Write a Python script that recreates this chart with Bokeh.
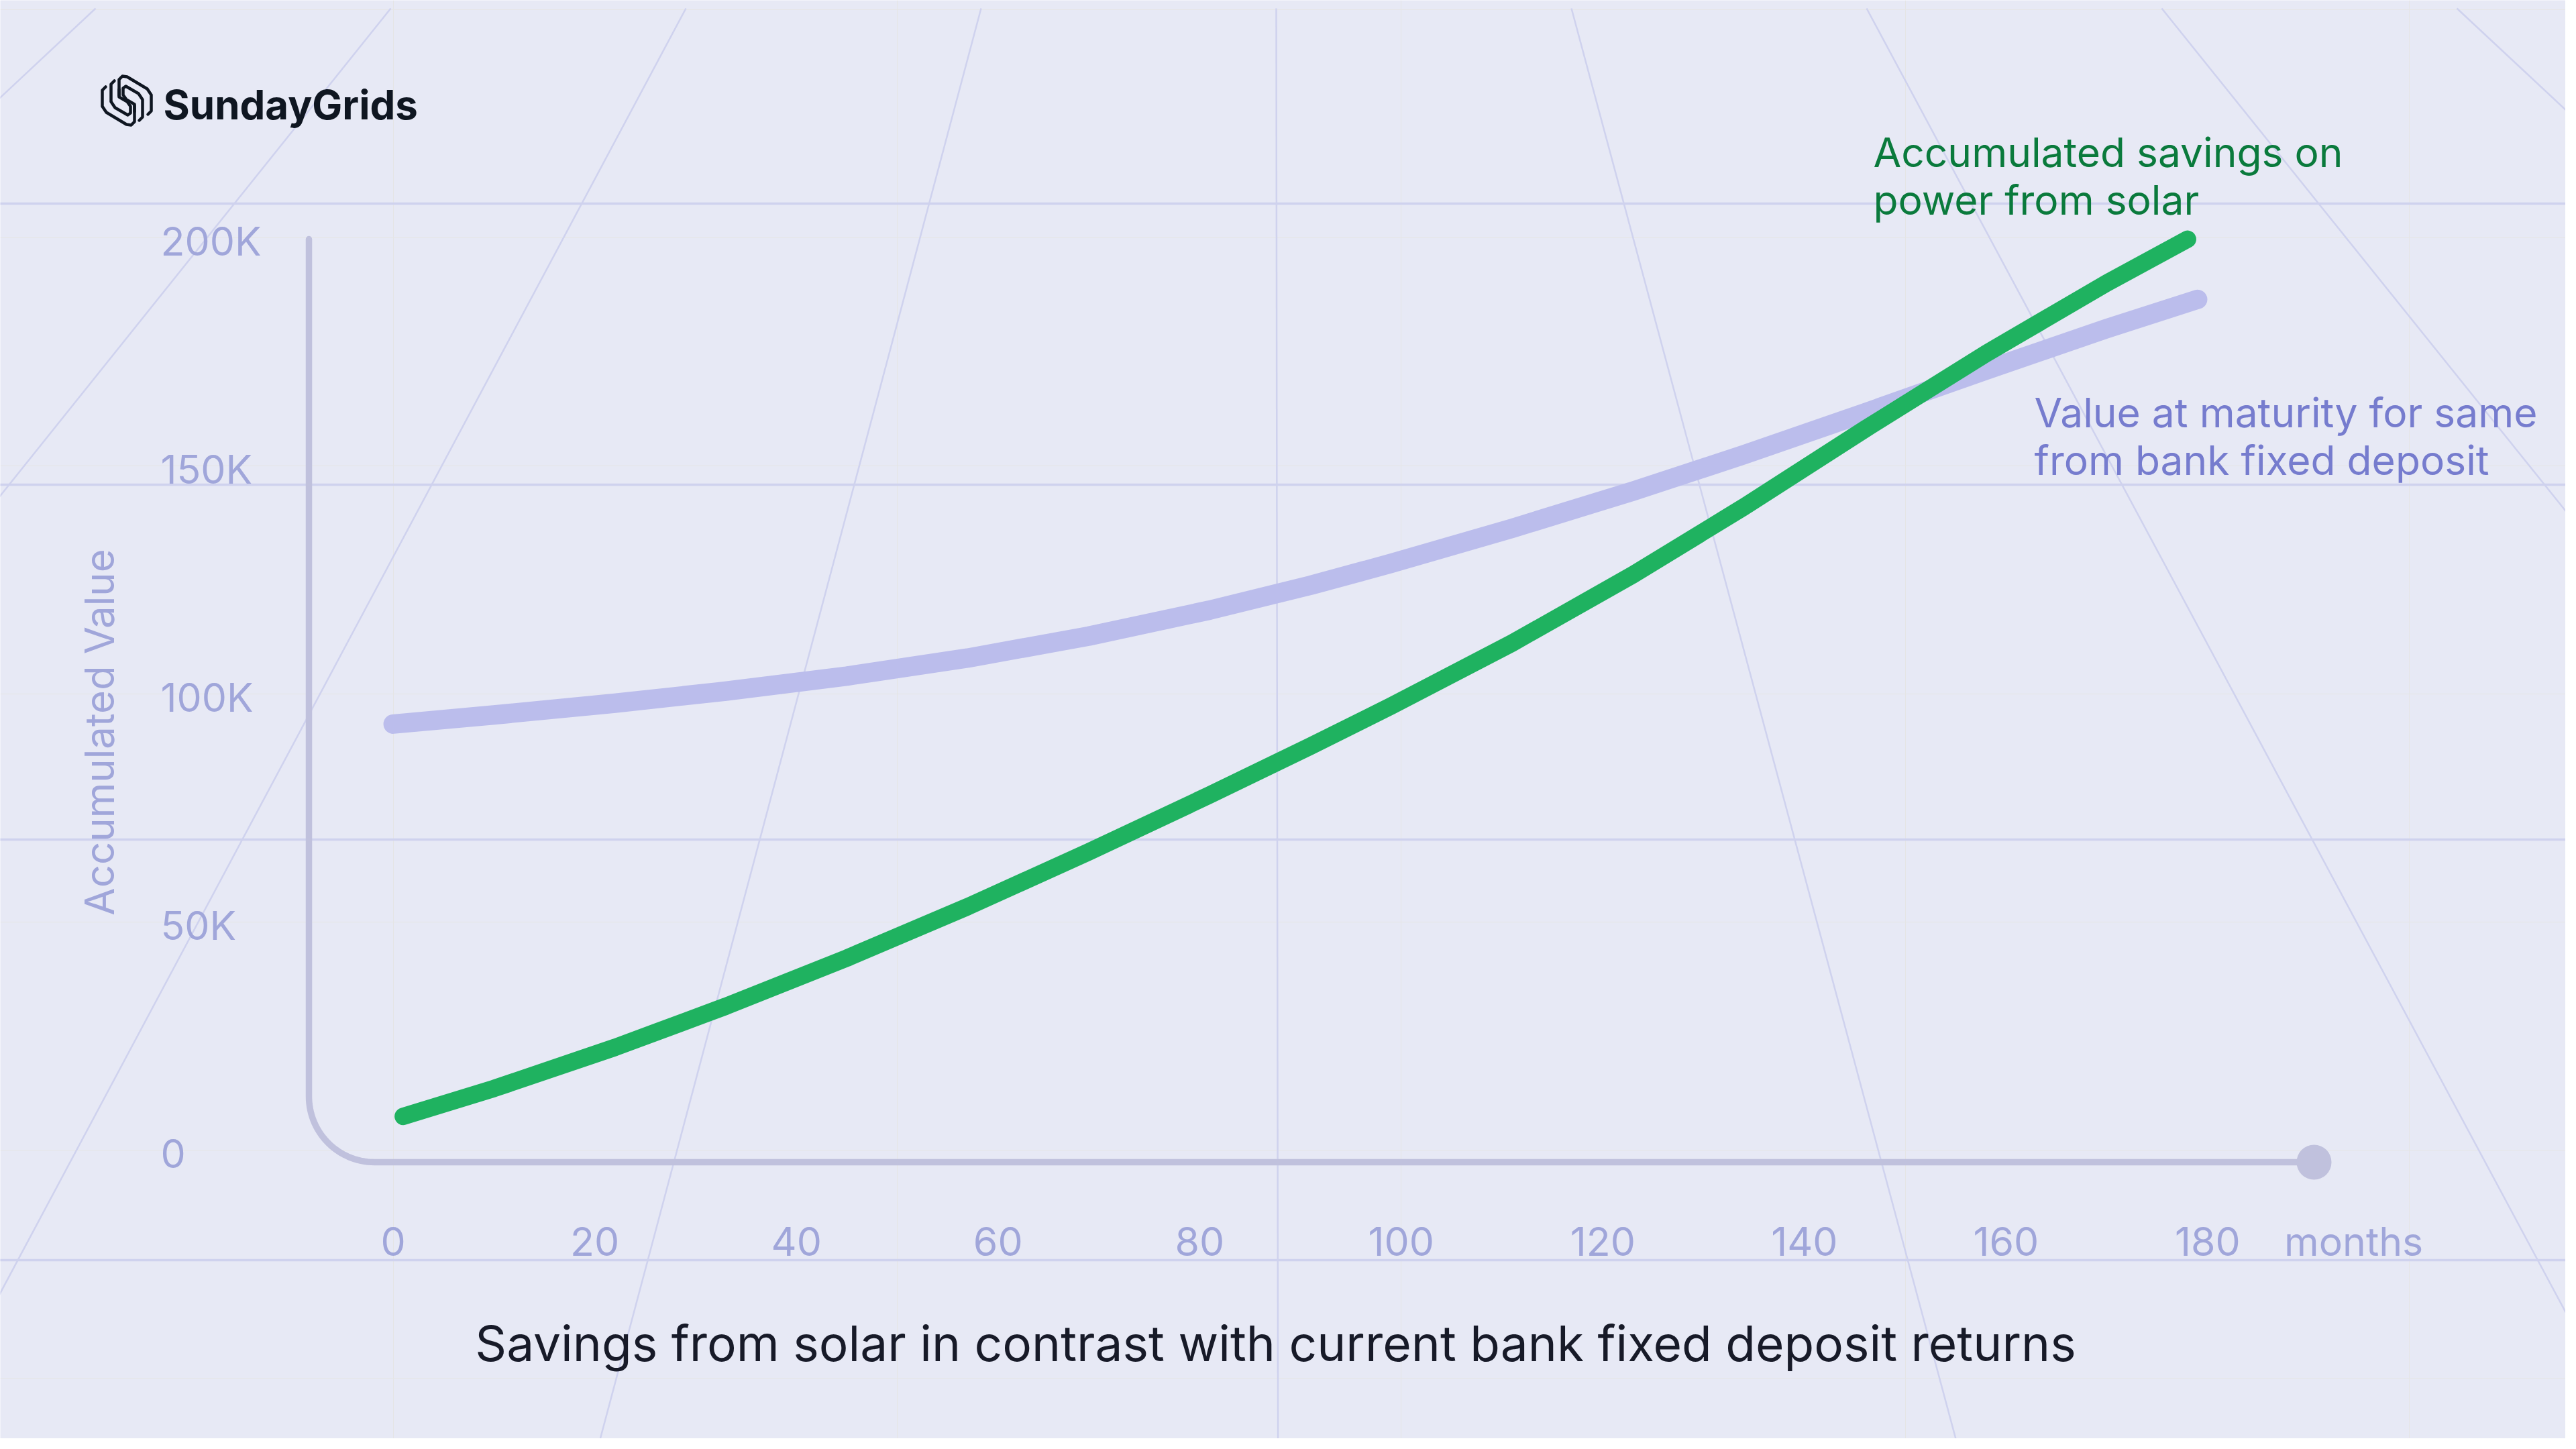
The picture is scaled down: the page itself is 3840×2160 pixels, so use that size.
import math
from bokeh.plotting import figure
from bokeh.models import Range1d
from bokeh.core.properties import value
from bokeh.embed import file_html
from bokeh.resources import INLINE

# ---------------- data ----------------
months_solar = [1, 10, 22, 33, 45, 57, 69, 81, 91, 99, 111, 123, 134, 146, 158, 170, 178]
savings_solar = [7400, 13520, 22520, 31540, 42100, 53380, 65380, 77860, 88560,
                 97360, 111160, 126160, 141010, 158050, 174610, 190090, 199690]

months_bank = [0, 10, 22, 33, 45, 57, 69, 81, 91, 99, 111, 123, 134, 146, 158, 170, 179]
value_bank = [93400, 95400, 97980, 100620, 103920, 107880, 112680, 118380, 123830,
              128630, 136310, 144470, 152450, 161630, 170990, 180110, 186500]

x_ticks = [0, 20, 40, 60, 80, 100, 120, 140, 160, 180]
y_ticks = [0, 50000, 100000, 150000, 200000]
y_tick_labels = ["0" if v == 0 else f"{v // 1000}K" for v in y_ticks]
x_tick_labels = [str(v) for v in x_ticks]

title_text = "Savings from solar in contrast with current bank fixed deposit returns"
y_title = "Accumulated Value"
x_unit = "months"
solar_note = ["Accumulated savings on", "power from solar"]
bank_note = ["Value at maturity for same", "from bank fixed deposit"]
brand = "SundayGrids"

# ---------------- layout / style ----------------
BG = "#E7E9F5"
DECO = "#CFD2EE"
FRAME = "#C0C1DD"
TICK = "#A0A6DA"
GREEN = "#1FB260"
GREEN_TXT = "#0A7A3C"
BANK = "#BBBDEC"
BANK_TXT = "#767CCE"
DARK = "#0F1621"
FONT = value("Inter")

W, H = 3824, 2144          # figure size; page offset 8 px
OFF = 8
X0, PPM = 593.6, 15.027    # page px of month 0, px per month
Y0, PPU = 1722.0, 0.0068   # page px of value 0, px per rupee
TXT_DY = 5                 # optical correction for middle-baseline text


def fx(px):
    return (px - X0) / PPM


def fy(py):
    return (Y0 - py) / PPU


p = figure(width=W, height=H,
           x_range=Range1d(fx(OFF), fx(OFF + W)),
           y_range=Range1d(fy(OFF + H), fy(OFF)),
           toolbar_location=None, output_backend="svg",
           x_axis_location=None, y_axis_location=None,
           min_border=0, background_fill_color=BG, border_fill_color=BG,
           outline_line_color=None)

# ---------------- decorative perspective grid ----------------
h_lines = [311, 730, 1259, 1886]
p.multi_line(xs=[[fx(0), fx(3840)] for _ in h_lines],
             ys=[[fy(h), fy(h)] for h in h_lines],
             line_color=DECO, line_width=3.5)

VX, VY, TOP = 1908.0, -1625.0, 20.0
fan_xs, fan_ys = [], []
for k in range(-4, 5):
    xt = 1910.0 + 440.0 * k
    xb = VX + (xt - VX) * (2160 - VY) / (TOP - VY)
    fan_xs.append([fx(xt), fx(xb)])
    fan_ys.append([fy(TOP), fy(2160)])
p.multi_line(xs=fan_xs, ys=fan_ys, line_color=DECO, line_width=2.5)

# ---------------- axis frame with rounded corner ----------------
ax_x, ax_top, ax_y, ax_end, rad = 468.0, 364.0, 1740.0, 3457.0, 98.0
fxs = [fx(ax_x)]
fys = [fy(ax_top)]
cx, cy = ax_x + rad, ax_y - rad
for i in range(0, 31):
    a = math.pi - (math.pi / 2) * i / 30.0
    fxs.append(fx(cx + rad * math.cos(a)))
    fys.append(fy(cy + rad * math.sin(a)))
fxs.append(fx(ax_end))
fys.append(fy(ax_y))
p.line(fxs, fys, line_color=FRAME, line_width=9.5, line_cap="round", line_join="round")
p.scatter([fx(ax_end)], [fy(ax_y)], size=52, fill_color=FRAME, line_color=None)

# ---------------- series ----------------
p.line(months_bank, value_bank, line_color=BANK, line_width=29,
       line_cap="round", line_join="round")
p.line(months_solar, savings_solar, line_color=GREEN, line_width=26,
       line_cap="round", line_join="round")

# ---------------- tick labels ----------------
p.text(x=[fx(247)] * len(y_ticks), y=[t - TXT_DY / PPU for t in y_ticks],
       text=y_tick_labels,
       text_font=FONT, text_font_size="59px", text_color=TICK,
       text_align="left", text_baseline="middle")
p.text(x=x_ticks, y=[fy(1853 + TXT_DY)] * len(x_ticks), text=x_tick_labels,
       text_font=FONT, text_font_size="59px", text_color=TICK,
       text_align="center", text_baseline="middle")
p.text(x=[x_ticks[-1]], y=[fy(1853 + TXT_DY)], text=[x_unit], x_offset=114,
       text_font=FONT, text_font_size="59px", text_color=TICK,
       text_align="left", text_baseline="middle")
p.text(x=[fx(155)], y=[fy(1099)], text=[y_title], angle=math.pi / 2,
       text_font=FONT, text_font_size="60px", text_color=TICK,
       text_align="center", text_baseline="middle")

# ---------------- annotations ----------------
p.text(x=[fx(2800)] * 2, y=[fy(229 + TXT_DY), fy(300 + TXT_DY)], text=solar_note,
       text_font=FONT, text_font_size="60.5px", text_color=GREEN_TXT,
       text_align="left", text_baseline="middle")
p.text(x=[fx(3040)] * 2, y=[fy(617 + TXT_DY), fy(688 + TXT_DY)], text=bank_note,
       text_font=FONT, text_font_size="60.5px", text_color=BANK_TXT,
       text_align="left", text_baseline="middle")

# ---------------- title ----------------
p.text(x=[fx(1909)], y=[fy(2008 + 2)], text=[title_text],
       text_font=FONT, text_font_size="73px", text_color="#171A28",
       text_align="center", text_baseline="middle")

# ---------------- brand ----------------
p.text(x=[fx(251)], y=[fy(158 + TXT_DY)], text=[brand],
       text_font=FONT, text_font_size="60px", text_font_style="bold",
       text_color=DARK, text_align="left", text_baseline="middle")

icon_pieces = [
    [(7, 18), (2, 23), (2, 47), (8, 56), (38, 74), (45, 75), (50, 70), (50, 46)],
    [(20, 9), (15, 14), (15, 40), (21, 49), (40, 60), (44, 57), (44, 47), (39, 40),
     (27, 33), (27, 22)],
]
icon_pieces = icon_pieces + [[(77 - a, 77 - b) for a, b in pc] for pc in icon_pieces]
ix0, iy0 = 158.0, 119.0
p.multi_line(xs=[[fx(ix0 + a) for a, b in pc] for pc in icon_pieces],
             ys=[[fy(iy0 + b) for a, b in pc] for pc in icon_pieces],
             line_color=DARK, line_width=4.5, line_cap="round", line_join="round")

html = file_html(p, INLINE)
html = html.replace("<body>", '<body style="background-color:%s;">' % BG, 1)
open("out.html", "w").write(html)
